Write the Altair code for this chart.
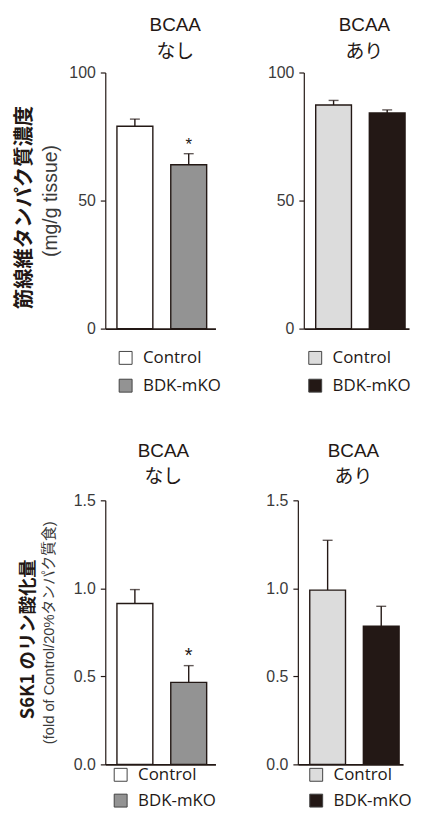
import altair as alt
import pandas as pd

# ---------------- data ----------------
groups = ["Control", "BDK-mKO"]

protein_no_bcaa = [79.0, 64.0]
protein_no_bcaa_upper = [81.8, 68.3]
protein_bcaa = [87.3, 84.2]
protein_bcaa_upper = [89.1, 85.4]

s6k1_no_bcaa = [0.914, 0.466]
s6k1_no_bcaa_upper = [0.993, 0.561]
s6k1_bcaa = [0.990, 0.785]
s6k1_bcaa_upper = [1.273, 0.898]

sig_no_bcaa = ["", "*"]
sig_bcaa = ["", ""]

title_no = ["BCAA", "なし"]
title_yes = ["BCAA", "あり"]

protein_domain = [0, 100]
protein_ticks = [0, 50, 100]
s6k1_domain = [0, 1.5]
s6k1_ticks = [0.0, 0.5, 1.0, 1.5]

colors_no = ["#ffffff", "#939393"]
colors_yes = ["#dcdcdc", "#231815"]

protein_title = ["筋線維タンパク質濃度"]
protein_unit = "(mg/g tissue)"
s6k1_title = ["S6K1 のリン酸化量"]
s6k1_unit = "(fold of Control/20%タンパク質食)"

# ---------------- style ----------------
INK = "#231815"
LAT = "Liberation Sans, Noto Sans CJK JP, sans-serif"
JP = "Noto Sans CJK JP, sans-serif"


def panel(values, upper, sig, colors, title, dom, ticks, fmt, height,
          width=111, outer=0.19, align=0.57, unit=None, unit_size=17,
          unit_pad=12, main=None, main_size=19, main_x=-84, main_y=136,
          leg_x=10, leg_y=280, row_pad=8, title_dx=0, title_offset=2,
          star_size=18):
    df = pd.DataFrame({"group": groups, "value": values,
                       "upper": upper, "sig": sig})
    base = alt.Chart(df)
    x = alt.X("group:N",
              scale=alt.Scale(domain=groups, paddingInner=0.333,
                              paddingOuter=outer, align=align),
              axis=alt.Axis(labels=False, ticks=False, title=None,
                            domainColor=INK, domainWidth=1.6))
    axis_kw = dict(values=ticks, format=fmt, grid=False, tickSize=5,
                   tickColor=INK, tickWidth=1.2, domainColor=INK,
                   domainWidth=1.2, labelFont=LAT, labelFontSize=16,
                   labelColor="#3a3a3a", labelPadding=5)
    if unit:
        axis_kw.update(title=unit, titleFont=LAT, titleFontSize=unit_size,
                       titleFontWeight="normal", titleColor="#3a3a3a",
                       titlePadding=unit_pad)
    else:
        axis_kw.update(title=None)
    y = alt.Y("value:Q", scale=alt.Scale(domain=dom, nice=False),
              axis=alt.Axis(**axis_kw))
    bars = base.mark_bar(stroke=INK, strokeWidth=1.4).encode(
        x=x, y=y,
        fill=alt.Fill("group:N",
                      scale=alt.Scale(domain=groups, range=colors),
                      legend=alt.Legend(orient="none", legendX=leg_x,
                                        legendY=leg_y, title=None,
                                        symbolType="square", symbolSize=169,
                                        symbolStrokeColor="#444",
                                        symbolStrokeWidth=1,
                                        labelFont="Open Sans",
                                        labelFontSize=17, labelColor=INK,
                                        labelOffset=9, rowPadding=row_pad,
                                        direction="vertical")))
    stems = base.mark_rule(color=INK, strokeWidth=1.4).encode(
        x=x, y="value:Q", y2="upper:Q")
    caps = base.mark_tick(color=INK, thickness=1.4, size=10).encode(
        x=x, y="upper:Q")
    stars = base.mark_text(font=LAT, fontSize=star_size, color=INK,
                           baseline="alphabetic", dy=-4).encode(
        x=x, y="upper:Q", text="sig:N")
    layers = [stems, caps, bars, stars]
    if main:
        tdf = pd.DataFrame({"label": main})
        layers.append(alt.Chart(tdf).mark_text(
            font=JP, fontWeight="bold", fontSize=main_size, color=INK,
            angle=270, align="center", baseline="middle").encode(
            x=alt.value(main_x), y=alt.value(main_y), text="label:N"))
    return alt.layer(*layers).properties(
        width=width, height=height,
        title=alt.TitleParams(text=title[0], subtitle=title[1], font=LAT,
                              fontSize=19, fontWeight="normal", color=INK,
                              subtitleFont=JP, subtitleFontSize=19,
                              subtitleColor=INK, subtitlePadding=8,
                              anchor="middle", frame="group",
                              offset=title_offset, dx=title_dx))


tl = panel(protein_no_bcaa, protein_no_bcaa_upper, sig_no_bcaa, colors_no,
           title_no, protein_domain, protein_ticks, "d", 258,
           unit=protein_unit, unit_size=19.5, unit_pad=8, main=protein_title,
           main_size=20.5, main_x=-81, main_y=136, leg_x=12, leg_y=279,
           row_pad=10, title_dx=15, title_offset=3, star_size=17)
tr = panel(protein_bcaa, protein_bcaa_upper, sig_bcaa, colors_yes,
           title_yes, protein_domain, protein_ticks, "d", 258, width=106,
           outer=0.148, align=0.75, leg_x=3, leg_y=279, row_pad=10,
           title_dx=8, title_offset=3, star_size=17)
bl = panel(s6k1_no_bcaa, s6k1_no_bcaa_upper, sig_no_bcaa, colors_no,
           title_no, s6k1_domain, s6k1_ticks, ".1f", 266,
           unit=s6k1_unit, unit_size=14.8, unit_pad=17, main=s6k1_title,
           main_size=18.5, main_x=-78, main_y=140, leg_x=7, leg_y=268,
           title_dx=3, title_offset=5, star_size=20)
br = panel(s6k1_bcaa, s6k1_bcaa_upper, sig_bcaa, colors_yes,
           title_yes, s6k1_domain, s6k1_ticks, ".1f", 266, width=106,
           outer=0.148, align=0.75, leg_x=10, leg_y=268, title_dx=3,
           title_offset=5, star_size=20)

top = alt.hconcat(tl, tr, spacing=44).resolve_scale(
    fill="independent", y="independent", x="independent")
bottom = alt.hconcat(bl, br, spacing=48).resolve_scale(
    fill="independent", y="independent", x="independent")

chart = alt.vconcat(top, bottom, spacing=46).resolve_scale(
    fill="independent", y="independent", x="independent").properties(
    padding={"left": 6, "top": 4, "right": 0, "bottom": 0}
).configure_view(stroke="transparent")

chart.save("out.html", embed_options={"renderer": "svg", "actions": False})
